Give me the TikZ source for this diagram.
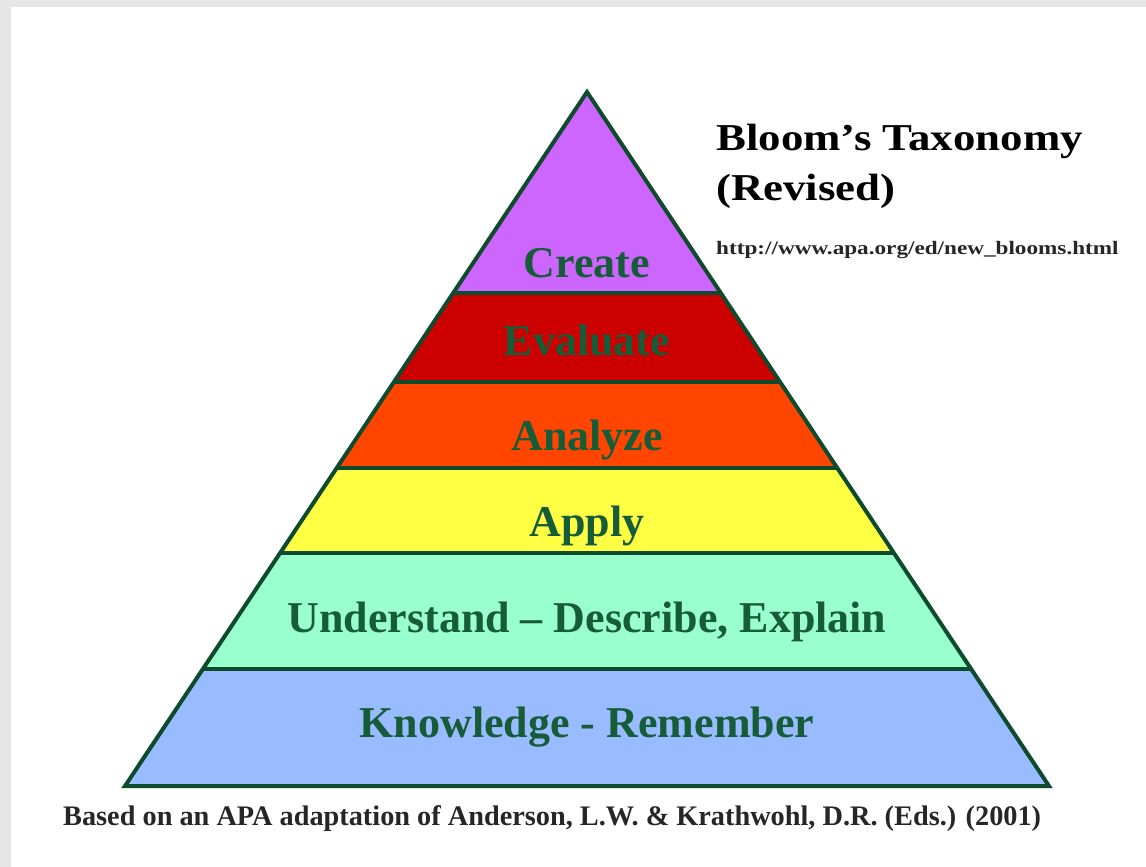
\documentclass[tikz,border=0pt]{standalone}
\usepackage{fontspec}
\setmainfont{Liberation Serif}
\newfontfamily\titlefont[FakeStretch=1.18]{Liberation Serif}
\newfontfamily\urlfont[FakeStretch=1.22]{Liberation Serif}
\usetikzlibrary{calc}
\definecolor{framegray}{HTML}{E6E6E6}
\definecolor{createc}{HTML}{CC66FF}
\definecolor{evalc}{HTML}{CC0000}
\definecolor{analc}{HTML}{FF4500}
\definecolor{applyc}{HTML}{FFFF44}
\definecolor{underc}{HTML}{99FFCC}
\definecolor{knowc}{HTML}{99BBFF}
\definecolor{edgegreen}{HTML}{0E4A2C}
\definecolor{labelgreen}{HTML}{175C38}
\begin{document}
\begin{tikzpicture}[x=1pt,y=-1pt,
  lvl/.style={font=\fontsize{44}{44}\selectfont\bfseries, text=labelgreen, anchor=base, inner sep=0pt},
  titletext/.style={font=\titlefont\fontsize{38}{38}\selectfont\bfseries, text=black, anchor=base west, inner sep=0pt},
  urltext/.style={font=\urlfont\fontsize{19}{19}\selectfont\bfseries, text=black!85, anchor=base west, inner sep=0pt},
  captext/.style={font=\fontsize{28.3}{28.3}\selectfont\bfseries, text=black!85, anchor=base west, inner sep=0pt},
  edge/.style={draw=edgegreen, line width=4pt, line join=miter}]
\useasboundingbox (0,0) rectangle (1146,867);
\fill[framegray] (0,0) rectangle (1146,867);
\fill[white] (11,7) rectangle (1146,867);
% pyramid corners
\coordinate (A) at (587,92);
\coordinate (L) at (125,786);
\coordinate (R) at (1049,786);
% band boundaries
\coordinate (l1) at ($(A)!0.2896!(L)$); \coordinate (r1) at ($(A)!0.2896!(R)$);
\coordinate (l2) at ($(A)!0.4179!(L)$); \coordinate (r2) at ($(A)!0.4179!(R)$);
\coordinate (l3) at ($(A)!0.5418!(L)$); \coordinate (r3) at ($(A)!0.5418!(R)$);
\coordinate (l4) at ($(A)!0.6643!(L)$); \coordinate (r4) at ($(A)!0.6643!(R)$);
\coordinate (l5) at ($(A)!0.8314!(L)$); \coordinate (r5) at ($(A)!0.8314!(R)$);
% fills
\fill[createc] (A) -- (l1) -- (r1) -- cycle;
\fill[evalc] (l1) -- (l2) -- (r2) -- (r1) -- cycle;
\fill[analc] (l2) -- (l3) -- (r3) -- (r2) -- cycle;
\fill[applyc] (l3) -- (l4) -- (r4) -- (r3) -- cycle;
\fill[underc] (l4) -- (l5) -- (r5) -- (r4) -- cycle;
\fill[knowc] (l5) -- (L) -- (R) -- (r5) -- cycle;
% outlines
\draw[edge] (l1) -- (r1);
\draw[edge] (l2) -- (r2);
\draw[edge] (l3) -- (r3);
\draw[edge] (l4) -- (r4);
\draw[edge] (l5) -- (r5);
\draw[edge] (A) -- (L) -- (R) -- cycle;
% labels
\node[lvl] (create) at (587,277) {Create};
\node[lvl] (evaluate) at (587,355) {Evaluate};
\node[lvl] (analyze) at (587,450) {Analyze};
\node[lvl] (apply) at (587,536) {Apply};
\node[lvl] (understand) at (587,632) {Understand – Describe, Explain};
\node[lvl] (knowledge) at (587,737) {Knowledge - Remember};
% title
\node[titletext] (title1) at (716,150) {Bloom’s Taxonomy};
\node[titletext] (title2) at (716,200) {(Revised)};
\node[urltext] (url) at (716,254) {http://www.apa.org/ed/new\_blooms.html};
\node[captext] (caption) at (63,825) {Based on an APA adaptation of Anderson, L.W. \& Krathwohl, D.R. (Eds.) (2001)};
\end{tikzpicture}
\end{document}
